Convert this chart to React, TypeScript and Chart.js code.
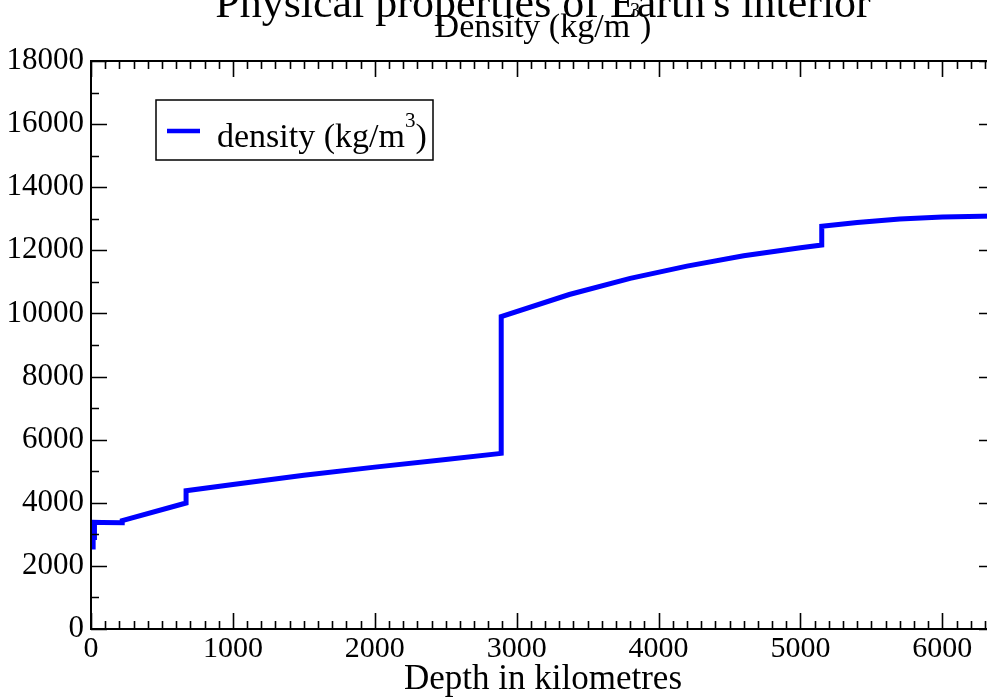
import React, { useEffect, useRef } from "react";
import { Chart, registerables } from "chart.js";

Chart.register(...registerables);

// ---- data ----
const depthKm = [
  0, 15, 15, 24.4, 24.4, 80, 220, 220, 670, 670, 1000, 1500, 2000, 2500, 2891,
  2891, 3371, 3800, 4200, 4600, 5000, 5150, 5150, 5400, 5700, 6000, 6371,
];
const densityKgM3 = [
  2600, 2600, 2900, 2900, 3381, 3375, 3367, 3436, 3992, 4381, 4580, 4870, 5130,
  5370, 5566, 9903, 10600, 11110, 11500, 11830, 12080, 12166, 12764, 12880,
  12990, 13060, 13088,
];
const xTickValues = [0, 1000, 2000, 3000, 4000, 5000, 6000];
const yTickValues = [0, 2000, 4000, 6000, 8000, 10000, 12000, 14000, 16000, 18000];
const xRange = [0, 6371];
const yRange = [0, 18000];
const xMinorStep = 100;
const yMinorStep = 1000;

const titleText = "Physical properties of Earth's interior";
const subtitleMain = "Density (kg/m";
const subtitleSup = "3";
const subtitleEnd = ")";
const xAxisTitle = "Depth in kilometres";
const seriesLabel = "density (kg/m";
const seriesLabelSup = "3";
const seriesLabelEnd = ")";

const SERIF = "'Liberation Serif', 'Times New Roman', serif";
const BLUE = "#0000ff";

function drawParts(
  ctx: CanvasRenderingContext2D,
  parts: { t: string; size: number; dy: number }[],
  x: number,
  y: number,
  sx: number,
  align: "center" | "left"
) {
  const widths = parts.map((p) => {
    ctx.font = `${p.size}px ${SERIF}`;
    return ctx.measureText(p.t).width;
  });
  const total = widths.reduce((a, b) => a + b, 0) * sx;
  let cx = align === "center" ? x - total / 2 : x;
  ctx.save();
  ctx.textAlign = "left";
  ctx.textBaseline = "alphabetic";
  ctx.fillStyle = "#000";
  parts.forEach((p, i) => {
    ctx.save();
    ctx.translate(cx, y + p.dy);
    ctx.scale(sx, 1);
    ctx.font = `${p.size}px ${SERIF}`;
    ctx.fillText(p.t, 0, 0);
    ctx.restore();
    cx += widths[i] * sx;
  });
  ctx.restore();
}

const framePlugin = {
  id: "framePlugin",
  afterDatasetsDraw(chart: any) {
    const ctx: CanvasRenderingContext2D = chart.ctx;
    const { left, right, top, bottom } = chart.chartArea;
    const xs = chart.scales.x;
    const ys = chart.scales.y;
    ctx.save();
    ctx.strokeStyle = "#000";
    ctx.lineWidth = 1.6;
    ctx.beginPath();
    for (let v = xRange[0]; v <= xRange[1]; v += xMinorStep) {
      const px = Math.round(xs.getPixelForValue(v)) + 0.5;
      const major = v % 1000 === 0;
      const len = major ? 16 : 8;
      ctx.moveTo(px, bottom);
      ctx.lineTo(px, bottom - len);
      ctx.moveTo(px, top);
      ctx.lineTo(px, top + len);
    }
    for (let v = yRange[0]; v <= yRange[1]; v += yMinorStep) {
      const py = Math.round(ys.getPixelForValue(v)) + 0.5;
      const major = v % 2000 === 0;
      const len = major ? 16 : 8;
      ctx.moveTo(left, py);
      ctx.lineTo(left + len, py);
      ctx.moveTo(right, py);
      ctx.lineTo(right - len, py);
    }
    ctx.stroke();
    ctx.lineWidth = 2;
    ctx.strokeRect(left, top, right - left, bottom - top);
    ctx.restore();

    // legend box
    const ds = chart.data.datasets[0];
    ctx.save();
    ctx.fillStyle = "#fff";
    ctx.fillRect(156, 100, 277, 60);
    ctx.strokeStyle = "#000";
    ctx.lineWidth = 1.5;
    ctx.strokeRect(156, 100, 277, 60);
    ctx.strokeStyle = ds.borderColor;
    ctx.lineWidth = 4.5;
    ctx.beginPath();
    ctx.moveTo(167, 131);
    ctx.lineTo(200, 131);
    ctx.stroke();
    ctx.restore();
    drawParts(
      ctx,
      [
        { t: seriesLabel, size: 34, dy: 0 },
        { t: seriesLabelSup, size: 21, dy: -20 },
        { t: seriesLabelEnd, size: 34, dy: 0 },
      ],
      217,
      147,
      1.0,
      "left"
    );

    // titles
    const cxm = (left + right) / 2;
    drawParts(ctx, [{ t: titleText, size: 44, dy: 0 }], cxm, 17, 1.0, "center");
    drawParts(
      ctx,
      [
        { t: subtitleMain, size: 34, dy: 0 },
        { t: subtitleSup, size: 20, dy: -20 },
        { t: subtitleEnd, size: 34, dy: 0 },
      ],
      cxm,
      37,
      1.0,
      "center"
    );
    drawParts(ctx, [{ t: xAxisTitle, size: 35, dy: 0 }], cxm, 689, 1.0, "center");
  },
};

export default function App() {
  const ref = useRef<HTMLCanvasElement | null>(null);
  useEffect(() => {
    if (!ref.current) return;
    const chart = new Chart(ref.current, {
      type: "scatter",
      data: {
        datasets: [
          {
            label: "density (kg/m³)",
            data: depthKm.map((d, i) => ({ x: d, y: densityKgM3[i] })),
            showLine: true,
            borderColor: BLUE,
            backgroundColor: BLUE,
            borderWidth: 5,
            pointRadius: 0,
            tension: 0,
            borderJoinStyle: "miter",
          } as any,
        ],
      },
      options: {
        responsive: false,
        animation: false,
        layout: { padding: { top: 61, right: 5, left: 0, bottom: 0 } },
        plugins: {
          legend: { display: false },
          title: { display: false },
          tooltip: { enabled: false },
        },
        scales: {
          x: {
            type: "linear",
            position: "bottom",
            min: xRange[0],
            max: xRange[1],
            grid: { display: false, drawTicks: false },
            border: { display: false },
            afterBuildTicks: (s: any) => {
              s.ticks = xTickValues.map((v) => ({ value: v }));
            },
            afterFit: (s: any) => {
              s.height = 69;
            },
            ticks: {
              autoSkip: false,
              maxRotation: 0,
              includeBounds: false,
              padding: 2,
              color: "#000",
              font: { family: SERIF, size: 30 },
              callback: (v: any) => String(v),
            },
          },
          y: {
            type: "linear",
            min: yRange[0],
            max: yRange[1],
            grid: { display: false, drawTicks: false },
            border: { display: false },
            afterBuildTicks: (s: any) => {
              s.ticks = yTickValues.map((v) => ({ value: v }));
            },
            afterFit: (s: any) => {
              s.width = 91;
            },
            ticks: {
              autoSkip: false,
              padding: 7,
              color: "#000",
              font: { family: SERIF, size: 31 },
              callback: (v: any) => String(v),
            },
          },
        },
      },
      plugins: [framePlugin],
    });
    return () => chart.destroy();
  }, []);
  return (
    <div
      style={{
        position: "fixed",
        left: 0,
        top: 0,
        width: 987,
        height: 698,
        overflow: "hidden",
        background: "#fff",
      }}
    >
      <canvas ref={ref} width={1000} height={698} style={{ display: "block" }} />
    </div>
  );
}
